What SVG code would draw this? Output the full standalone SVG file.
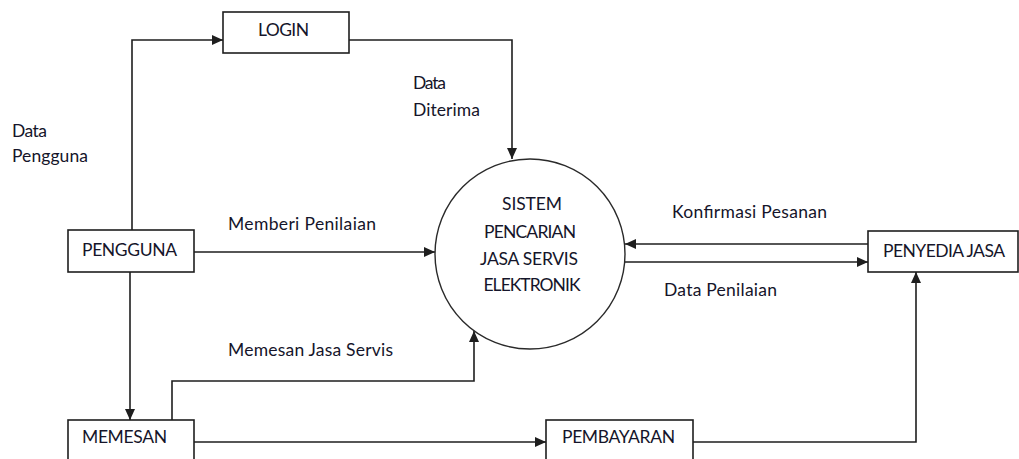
<svg xmlns="http://www.w3.org/2000/svg" width="1019" height="459" viewBox="0 0 1019 459">
  <style>
    .box { fill: #ffffff; stroke: #1e1e1e; stroke-width: 1.6; }
    .proc { fill: #ffffff; stroke: #2a2a2a; stroke-width: 1.4; }
    .flow { fill: none; stroke: #1e1e1e; stroke-width: 1.6; marker-end: url(#arrow); }
    text { font-family: Lato, "Liberation Sans", Arial, sans-serif; font-size: 17.5px; fill: #15152a; }
    .mid { text-anchor: middle; }
  </style>
  <defs>
    <marker id="arrow" markerUnits="userSpaceOnUse" markerWidth="11" markerHeight="10" viewBox="0 0 11 10" refX="11" refY="5" orient="auto">
      <path d="M0,0 L11,5 L0,10 Z" fill="#1e1e1e"/>
    </marker>
  </defs>
  <rect width="1019" height="459" fill="#ffffff"/>

  <!-- data flows -->
  <g id="connectors">
    <path class="flow" d="M132,230 V40 H223"/>
    <path class="flow" d="M349,40 H512 V159"/>
    <path class="flow" d="M194,252 H435"/>
    <path class="flow" d="M130,272 V420"/>
    <path class="flow" d="M172,420 V381 H474 V331"/>
    <path class="flow" d="M868,244 H625"/>
    <path class="flow" d="M625,262 H868"/>
    <path class="flow" d="M194,442 H546"/>
    <path class="flow" d="M693,442 H916 V272"/>
  </g>

  <!-- flow labels -->
  <g id="labels">
    <text x="12" y="137" textLength="35">Data</text>
    <text x="12" y="162" textLength="76">Pengguna</text>
    <text x="413" y="89" textLength="33">Data</text>
    <text x="413" y="116" textLength="67">Diterima</text>
    <text x="228" y="230" textLength="148">Memberi Penilaian</text>
    <text x="228" y="356" textLength="165">Memesan Jasa Servis</text>
    <text x="672" y="218" textLength="155">Konfirmasi Pesanan</text>
    <text x="664" y="296" textLength="113">Data Penilaian</text>
  </g>

  <g id="login">
    <rect class="box" x="223" y="12" width="126" height="41"/>
    <text x="258" y="36" textLength="51">LOGIN</text>
  </g>

  <g id="pengguna">
    <rect class="box" x="68" y="230" width="126" height="42"/>
    <text x="82" y="256" textLength="95">PENGGUNA</text>
  </g>

  <g id="memesan">
    <rect class="box" x="68" y="420" width="126" height="42"/>
    <text x="82" y="443" textLength="85">MEMESAN</text>
  </g>

  <g id="pembayaran">
    <rect class="box" x="546" y="420" width="147" height="42"/>
    <text x="562" y="443" textLength="113">PEMBAYARAN</text>
  </g>

  <g id="penyedia-jasa">
    <rect class="box" x="868" y="231" width="150" height="41"/>
    <text x="883" y="257" textLength="122">PENYEDIA JASA</text>
  </g>

  <g id="sistem">
    <circle class="proc" cx="530" cy="254" r="95"/>
    <text class="mid" x="532" y="210" textLength="60">SISTEM</text>
    <text class="mid" x="530" y="238" textLength="92">PENCARIAN</text>
    <text class="mid" x="529" y="265" textLength="98">JASA SERVIS</text>
    <text class="mid" x="532" y="291" textLength="97">ELEKTRONIK</text>
  </g>
</svg>
